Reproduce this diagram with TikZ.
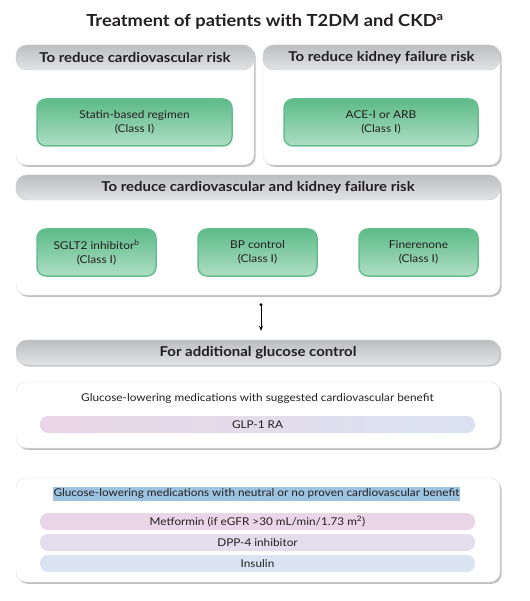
\documentclass[tikz,border=0pt]{standalone}
\usepackage{fontspec}
\setmainfont{Lato}[FakeStretch=1.1]
\usetikzlibrary{shadows,arrows.meta}
\definecolor{hdtop}{HTML}{BDBEC0}
\definecolor{hdbot}{HTML}{E2E3E5}
\definecolor{grtop}{HTML}{5DBB89}
\definecolor{grbot}{HTML}{AEDEC3}
\definecolor{grline}{HTML}{66BE8E}
\definecolor{pkA}{HTML}{EAD6E8}
\definecolor{lvA}{HTML}{E3DDEE}
\definecolor{blA}{HTML}{D9E3F1}
\definecolor{hilite}{HTML}{9DC3E0}
\definecolor{txt}{HTML}{231F20}
\begin{document}
\begin{tikzpicture}[x=1pt,y=-1pt,
  card/.style={draw=black!12,line width=0.4pt,fill=white,rounded corners=10pt,
    drop shadow={shadow xshift=1.6pt,shadow yshift=-1.8pt,opacity=0.35,fill=black!70}},
  header/.style={draw=black!20,line width=0.4pt,rounded corners=11pt,top color=hdtop,bottom color=hdbot,
    font=\bfseries\fontsize{13.6}{15}\selectfont,text=txt,inner sep=0pt},
  greenbox/.style={draw=grline,line width=1.5pt,rounded corners=9pt,top color=grtop,bottom color=grbot,
    font=\fontsize{10.8}{13.5}\selectfont,text=txt,align=center,inner sep=0pt},
  pill/.style={rounded corners=8pt,minimum width=435pt,minimum height=17pt,inner sep=0pt,
    font=\fontsize{10.7}{12}\selectfont,text=txt},
  body/.style={font=\fontsize{10.7}{12}\selectfont,text=txt,inner sep=1pt},
]
\useasboundingbox (0,0) rectangle (529,601);
\fill[white] (0,0) rectangle (529,601);

\node[font=\bfseries\fontsize{16.6}{18}\selectfont,text=txt] (title) at (265,22) {Treatment of patients with T2DM and CKD\textsuperscript{a}};

% top-left card
\node[card,minimum width=238pt,minimum height=120pt] (c1) at (135,105) {};
\node[header,minimum width=238pt,minimum height=25pt] (h1) at (135,57.5) {To reduce cardiovascular risk};
\node[greenbox,minimum width=195pt,minimum height=47pt] (g1) at (134.5,122.5) {Statin-based regimen\\(Class I)};

% top-right card
\node[card,minimum width=237pt,minimum height=120pt] (c2) at (381.5,105) {};
\node[header,minimum width=237pt,minimum height=25pt] (h2) at (381.5,57.5) {To reduce kidney failure risk};
\node[greenbox,minimum width=194pt,minimum height=47pt] (g2) at (381,122.5) {ACE-I or ARB\\(Class I)};

% middle card
\node[card,minimum width=484pt,minimum height=120pt] (c3) at (258,235) {};
\node[header,minimum width=484pt,minimum height=25pt] (h3) at (258,187.5) {To reduce cardiovascular and kidney failure risk};
\node[greenbox,minimum width=119pt,minimum height=47pt] (g3) at (96.5,252.5) {SGLT2 inhibitor\textsuperscript{b}\\(Class I)};
\node[greenbox,minimum width=119pt,minimum height=47pt] (g4) at (257.5,252.5) {BP control\\(Class I)};
\node[greenbox,minimum width=119pt,minimum height=47pt] (g5) at (418.5,252.5) {Finerenone\\(Class I)};

% additional glucose band
\node[header,minimum width=484pt,minimum height=25pt,
  drop shadow={shadow xshift=1.4pt,shadow yshift=-1.6pt,opacity=0.3,fill=black!70}] (band) at (258,352.5) {For additional glucose control};

\draw[line width=0.7pt,{Circle[length=3pt]}-{Stealth[length=5pt,width=4pt]},shorten <=8pt,shorten >=9pt]
  (c3.south -| 261,0) -- (band.north -| 261,0);

% suggested benefit card
\node[card,minimum width=484pt,minimum height=66pt] (c4) at (258,415) {};
\node[body] (t4) at (257.5,399) {Glucose-lowering medications with suggested cardiovascular benefit};
\node[pill,left color=pkA,right color=blA!90!lvA] (glp) at (257.5,424.5) {GLP-1 RA};

% neutral card
\node[card,minimum width=484pt,minimum height=104pt] (c5) at (258,530) {};
\node[body,fill=hilite,inner xsep=1pt,inner ysep=2.5pt] (t5) at (256.5,494) {Glucose-lowering medications with neutral or no proven cardiovascular benefit};
\node[pill,fill=pkA] (met) at (257.5,521.5) {Metformin (if eGFR >30 mL/min/1.73 m\textsuperscript{2})};
\node[pill,fill=lvA] (dpp) at (257.5,542.5) {DPP-4 inhibitor};
\node[pill,fill=blA] (ins) at (257.5,563.5) {Insulin};
\end{tikzpicture}
\end{document}
